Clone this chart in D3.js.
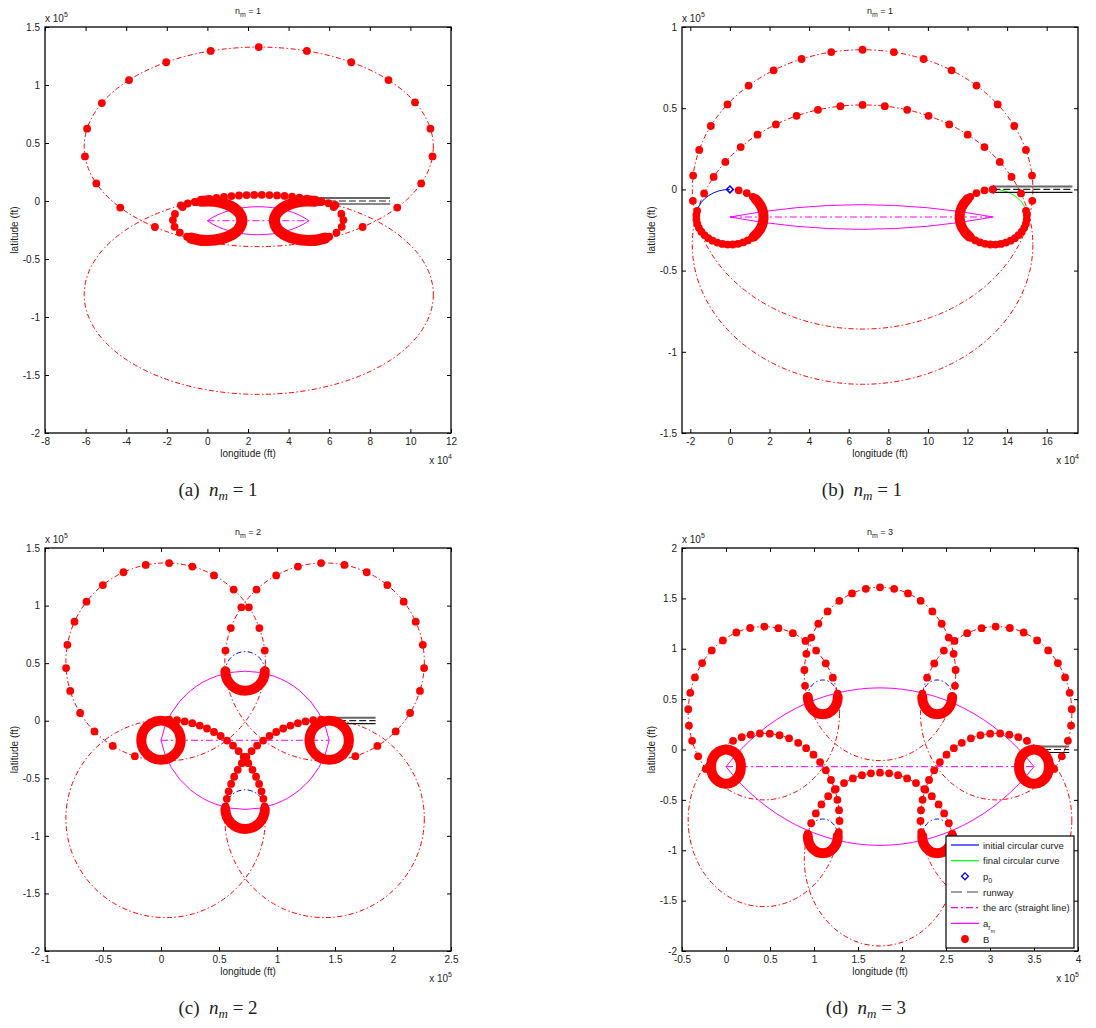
<!DOCTYPE html>
<html>
<head>
<meta charset="utf-8">
<script src="https://cdn.jsdelivr.net/npm/d3@7"></script>
<style>
  body { margin: 0; background: #fff; }
  text { font-family: "Liberation Sans", Arial, sans-serif; fill: #222; }
</style>
</head>
<body>
<svg id="fig" width="1096" height="1028"></svg>
<script>
// ---------------- data (feet) ----------------
// circles are [cx, cy, radius]; dot lists are angles in degrees on a circle

// (a) n_m = 1
const aXTicks = [-8, -6, -4, -2, 0, 2, 4, 6, 8, 10, 12];
const aYTicks = [-2, -1.5, -1, -0.5, 0, 0.5, 1, 1.5];
const aCircles = [[25300, 46700, 86000], [25300, -80700, 86000], [0, -17000, 17000], [50000, -17000, 17000]];
const aGuide = [0, 1];
const aDotsUpper = [-53.5, -37.5, -21.5, -5.5, 10.5, 26.5, 42, 58, 74, 90, 106, 122, 138, 154, 169.5, 185.5, 201.5, 217.5, 233.5];
const aDotsLowerTop = [64, 66.5, 69, 71.5, 74, 76.5, 79, 81.5, 84, 86.5, 89, 91.5, 94, 96.5, 99, 101.5, 104, 106.5, 109, 111.5, 114, 116.5];
const aDotsLoopL = [110, 136, 160, 178, 198, 217, 234];
const aDotsLoopR = [70, 44, 20, 2, -18, -37, -54];
const aThick = [[2, -118, 100], [3, 80, 298]];
const aLens = [0, 50000, -17000, 31900];
const aRunway = [50000, 90000];

// (b) n_m = 1
const bXTicks = [-2, 0, 2, 4, 6, 8, 10, 12, 14, 16];
const bYTicks = [-1.5, -1, -0.5, 0, 0.5, 1];
const bCircles = [[67000, 0, 86000], [67000, -34000, 86000], [0, -17000, 17000], [133000, -17000, 17000]];
const bGuide = [0, 1];
const bDotsC1 = [184.7, 174.3, 163.6, 153, 142.5, 132, 121.5, 111, 100.6, 90, 79.4, 69, 58.5, 48, 37.5, 27, 16.4, 5.7, -4.7];
const bDotsC2 = [158.5, 151, 143.7, 135.7, 128.1, 120.6, 112.8, 105.2, 97.5, 90, 82.5, 74.8, 67.2, 59.4, 51.9, 44.3, 36.3, 29, 21.5];
const bDotsLoopL = [75, 60, 47, 36, 26, 17, 9, 1, -7, -15, -23, -31, -40, -49, -58, -67, -76, -85, -94, -103, -112, -121, -130, -139, -148, -157, -166, -175, -184, -193];
const bDotsLoopR = [91, 105, 120, 133, 144, 154, 163, 171, 179, 187, 195, 203, 211, 220, 229, 238, 247, 256, 265, 274, 283, 292, 301, 310, 319, 328, 337, 346, 355, 364, 373];
const bThick = [[2, -45, 40], [3, 140, 225]];
const bLens = [0, 133000, -17000, 298600];
const bRunway = [133000, 173000];

// (c) n_m = 2
const cXTicks = [-1, -0.5, 0, 0.5, 1, 1.5, 2, 2.5];
const cYTicks = [-2, -1.5, -1, -0.5, 0, 0.5, 1, 1.5];
const cCircles = [[4000, 51000, 86000], [141000, 51000, 86000], [4000, -85000, 86000], [141000, -85000, 86000],
                  [0, -17000, 17000], [145000, -17000, 17000], [72500, 43000, 17000], [72500, -77000, 17000]];
const cGuide = [0, 1, 2, 3];
const cDotsUL = [6.6, 20, 33.5, 47, 61, 74.5, 88, 101.5, 115, 129, 142.5, 156, 170, 183.5, 197, 211, 224.5, 238, 252];
const cDotsUR = [173.4, 160, 146.5, 133, 119, 105.5, 92, 78.5, 65, 51, 37.5, 24, 10, -3.5, -17, -31, -44.5, -58, -72];
const cDotsLL = [88, 83.5, 79, 74.5, 70, 65.5, 61, 56.5, 52, 47.5, 43, 38.5, 34, 29.5, 25, 20.5, 16, 11.5, 7];
const cDotsLR = [92, 96.5, 101, 105.5, 110, 114.5, 119, 123.5, 128, 132.5, 137, 141.5, 146, 150.5, 155, 159.5, 164, 168.5, 173];
const cThick = [[4, 0, 360], [5, 0, 360], [6, 180, 360], [7, 180, 360]];
const cBlueDash = [[6, 0, 180], [7, 0, 180]];
const cLens = [0, 145000, -17000, 73800];
const cRunway = [145000, 185000];

// (d) n_m = 3
const dXTicks = [-0.5, 0, 0.5, 1, 1.5, 2, 2.5, 3, 3.5, 4];
const dYTicks = [-2, -1.5, -1, -0.5, 0, 0.5, 1, 1.5, 2];
const dCircles = [[43000, 36000, 86000], [175000, 75000, 86000], [307000, 36000, 86000],
                  [43000, -70000, 86000], [175000, -109000, 86000], [307000, -70000, 86000],
                  [0, -17000, 17000], [350000, -17000, 17000], [110000, 52000, 17000], [240000, 52000, 17000],
                  [110000, -86000, 17000], [240000, -86000, 17000]];
const dGuide = [0, 1, 2, 3, 4, 5];
const dDotsUL = [220, 209.8, 198.6, 188.2, 177.3, 166.4, 155.6, 144.6, 133.5, 122.8, 111.3, 100.4, 89.6, 78.9, 67.5, 56.6, 46.3, 35.1, 24.2, 13];
const dDotsUC = [-7.9, 2.6, 13.4, 24.8, 35.4, 46.2, 57.5, 68.3, 79.2, 90, 100.8, 111.7, 122.5, 133.8, 144.6, 155.2, 166.6, 177.4, 187.9];
const dDotsUR = [-40, -29.8, -18.6, -8.2, 2.7, 13.6, 24.4, 35.4, 46.5, 57.2, 68.7, 79.6, 90.4, 101.1, 112.5, 123.4, 133.7, 144.9, 155.8, 167];
const dDotsLL = [114, 107, 100, 93, 85.5, 78, 70.5, 63, 56, 49, 42, 35, 27.5, 20.5, 13.5, 6.5, -0.6, -8];
const dDotsLC = [17.2, 24.6, 32, 39.3, 46.8, 54.2, 61.6, 69, 76.2, 83.1, 90, 96.9, 103.8, 111, 118.4, 125.8, 133.2, 140.7, 148, 155.4, 162.8];
const dDotsLR = [66, 73, 80, 87, 94.5, 102, 109.5, 117, 124, 131, 138, 145, 152.5, 159.5, 166.5, 173.5, 180.6, 188];
const dThick = [[6, 0, 360], [7, 0, 360], [8, 180, 360], [9, 180, 360], [10, 180, 360], [11, 180, 360]];
const dBlueDash = [[8, 0, 180], [9, 0, 180], [10, 0, 180], [11, 0, 180]];
const dLens = [0, 350000, -17000, 234970];
const dRunway = [350000, 390000];

const legendLabels = ['initial circular curve', 'final circular curve', 'p0', 'runway', 'the arc (straight line)', 'arm', 'B'];

// ---------------- drawing ----------------
const svg = d3.select('#fig');
svg.append('rect').attr('width', 1096).attr('height', 1028).attr('fill', '#fff');

const RED = '#ff0000', MAG = '#ff00ff', BLUE = '#0000ff', GREEN = '#00ff00';
const DASHDOT = '5,2.5,1.5,2.5';

function fmt(v) { return String(+v.toFixed(2)); }

function drawPanel(p) {
    const [L, T, R, B] = p.box;
    const x = d3.scaleLinear().domain(p.xDom).range([L, R]);
    const y = d3.scaleLinear().domain(p.yDom).range([B, T]);
    const kx = (R - L) / (p.xDom[1] - p.xDom[0]);
    const ky = (B - T) / (p.yDom[1] - p.yDom[0]);

    svg.append('clipPath').attr('id', 'clip' + p.id)
        .append('rect').attr('x', L).attr('y', T).attr('width', R - L).attr('height', B - T);
    const g = svg.append('g').attr('clip-path', `url(#clip${p.id})`);

    const pt = (c, deg) => {
        const a = deg * Math.PI / 180;
        return [c[0] + c[2] * Math.cos(a), c[1] + c[2] * Math.sin(a)];
    };
    // arc along circle c from a1 to a2 (degrees, data orientation)
    const arcPath = (c, a1, a2) => {
        const rx = c[2] * kx, ry = c[2] * ky;
        const n = Math.max(1, Math.ceil(Math.abs(a2 - a1) / 170));
        const step = (a2 - a1) / n;
        const sweep = a2 > a1 ? 0 : 1;
        let p0 = pt(c, a1);
        let d = `M${x(p0[0])},${y(p0[1])}`;
        for (let i = 1; i <= n; i++) {
            const q = pt(c, a1 + step * i);
            d += `A${rx},${ry} 0 0 ${sweep} ${x(q[0])},${y(q[1])}`;
        }
        return d;
    };

    // red dash-dot guide circles
    g.selectAll(null).data(p.guide.map(i => p.circles[i])).join('ellipse')
        .attr('cx', c => x(c[0])).attr('cy', c => y(c[1]))
        .attr('rx', c => c[2] * kx).attr('ry', c => c[2] * ky)
        .attr('fill', 'none').attr('stroke', RED).attr('stroke-width', 1)
        .attr('stroke-dasharray', DASHDOT);

    // blue dash-dot half circles
    g.selectAll(null).data(p.blueDash || []).join('path')
        .attr('d', a => arcPath(p.circles[a[0]], a[1], a[2]))
        .attr('fill', 'none').attr('stroke', BLUE).attr('stroke-width', 1)
        .attr('stroke-dasharray', DASHDOT);

    // initial / final circular curves
    g.append('path').attr('d', arcPath(p.circles[p.loopL], 90, p.initEnd))
        .attr('fill', 'none').attr('stroke', BLUE).attr('stroke-width', 1);
    g.append('path').attr('d', arcPath(p.circles[p.loopR], 90, p.finalEnd))
        .attr('fill', 'none').attr('stroke', GREEN).attr('stroke-width', 1);

    // a_rm : two circular arcs between the loop centres, and the straight arc line
    const [lx1, lx2, ly, lr] = p.lens;
    const rx = lr * kx, ry = lr * ky;
    g.append('path')
        .attr('d', `M${x(lx1)},${y(ly)}A${rx},${ry} 0 0 1 ${x(lx2)},${y(ly)}` +
                   `M${x(lx1)},${y(ly)}A${rx},${ry} 0 0 0 ${x(lx2)},${y(ly)}`)
        .attr('fill', 'none').attr('stroke', MAG).attr('stroke-width', 1);
    g.append('line').attr('x1', x(lx1)).attr('x2', x(lx2)).attr('y1', y(ly)).attr('y2', y(ly))
        .attr('stroke', MAG).attr('stroke-width', 1).attr('stroke-dasharray', '7,3,2,3');

    // runway
    const [rw1, rw2] = p.runway;
    const rg = g.append('g');
    rg.append('line').attr('x1', x(rw1)).attr('x2', x(rw2)).attr('y1', y(0) - 3).attr('y2', y(0) - 3)
        .attr('stroke', '#666').attr('stroke-width', 2);
    rg.append('line').attr('x1', x(rw1)).attr('x2', x(rw2)).attr('y1', y(0)).attr('y2', y(0))
        .attr('stroke', '#222').attr('stroke-width', 1.2).attr('stroke-dasharray', '7,3');
    rg.append('line').attr('x1', x(rw1)).attr('x2', x(rw2)).attr('y1', y(0) + 3).attr('y2', y(0) + 3)
        .attr('stroke', '#111').attr('stroke-width', 1.2);

    // p0 markers
    const diamond = d3.symbol(d3.symbolDiamond2, 30);
    [[0, 0], [rw1, 0]].forEach(q => {
        g.append('path').attr('d', diamond).attr('transform', `translate(${x(q[0])},${y(q[1])})`)
            .attr('fill', 'none').attr('stroke', BLUE).attr('stroke-width', 1.5);
    });

    // B : dense parts of the loops
    g.selectAll(null).data(p.thick).join('path')
        .attr('d', a => arcPath(p.circles[a[0]], a[1], a[2]))
        .attr('fill', 'none').attr('stroke', RED).attr('stroke-width', p.thickW)
        .attr('stroke-linecap', 'round');

    // B : individual points
    const pts = [];
    p.dots.forEach(([ci, angs]) => angs.forEach(a => pts.push(pt(p.circles[ci], a))));
    g.selectAll(null).data(pts).join('circle')
        .attr('cx', d => x(d[0])).attr('cy', d => y(d[1])).attr('r', 3.9)
        .attr('fill', RED);

    // axes (inward ticks on all four sides)
    const xv = p.xTicks.map(t => t * p.xUnit), yv = p.yTicks.map(t => t * p.yUnit);
    const styleAxis = sel => {
        sel.select('.domain').remove();
        sel.selectAll('line').attr('stroke', '#000');
        sel.selectAll('text').attr('font-family', '"Liberation Sans", Arial, sans-serif')
            .attr('font-size', 10).attr('fill', '#222');
        sel.attr('font-family', null).attr('font-size', null);
    };
    svg.append('g').attr('transform', `translate(0,${B})`)
        .call(d3.axisBottom(x).tickValues(xv).tickFormat(d => fmt(d / p.xUnit))
            .tickSizeInner(-4).tickSizeOuter(0).tickPadding(5)).call(styleAxis);
    svg.append('g').attr('transform', `translate(0,${T})`)
        .call(d3.axisTop(x).tickValues(xv).tickFormat('').tickSizeInner(-4).tickSizeOuter(0)).call(styleAxis);
    svg.append('g').attr('transform', `translate(${L},0)`)
        .call(d3.axisLeft(y).tickValues(yv).tickFormat(d => fmt(d / p.yUnit))
            .tickSizeInner(-4).tickSizeOuter(0).tickPadding(5)).call(styleAxis);
    svg.append('g').attr('transform', `translate(${R},0)`)
        .call(d3.axisRight(y).tickValues(yv).tickFormat('').tickSizeInner(-4).tickSizeOuter(0)).call(styleAxis);

    svg.append('rect').attr('x', L).attr('y', T).attr('width', R - L).attr('height', B - T)
        .attr('fill', 'none').attr('stroke', '#000').attr('stroke-width', 1.3);

    // titles and labels
    const cx = (L + R) / 2;
    const title = svg.append('text').attr('x', cx).attr('y', T - 13).attr('text-anchor', 'middle')
        .attr('font-size', 9);
    title.append('tspan').text('n');
    title.append('tspan').attr('dy', 2.5).attr('font-size', 7).text('m');
    title.append('tspan').attr('dy', -2.5).text(' = ' + p.nm);

    svg.append('text').attr('x', cx).attr('y', B + 24).attr('text-anchor', 'middle')
        .attr('font-size', 10).text('longitude (ft)');
    svg.append('text').attr('transform', `translate(${L - 27},${(T + B) / 2}) rotate(-90)`)
        .attr('text-anchor', 'middle').attr('font-size', 10).text('latitude (ft)');

    const ey = svg.append('text').attr('x', L).attr('y', T - 5).attr('font-size', 10);
    ey.append('tspan').text('x 10');
    ey.append('tspan').attr('dy', -5).attr('font-size', 7).text(p.yExp);
    const ex = svg.append('text').attr('x', R + 1).attr('y', B + 31).attr('text-anchor', 'end').attr('font-size', 10);
    ex.append('tspan').text('x 10');
    ex.append('tspan').attr('dy', -5).attr('font-size', 7).text(p.xExp);

    // caption
    const cap = svg.append('text').attr('x', p.capX).attr('y', B + 63).attr('text-anchor', 'middle')
        .attr('font-size', 19).style('font-family', '"Liberation Serif", "DejaVu Serif", serif').attr('fill', '#111');
    cap.append('tspan').text('(' + p.id + ')\u2002');
    cap.append('tspan').attr('font-style', 'italic').text('n');
    cap.append('tspan').attr('font-style', 'italic').attr('font-size', 13).attr('dy', 4).text('m');
    cap.append('tspan').attr('dy', -4).text(' = ' + p.nm);

    return { x, y };
}

drawPanel({ id: 'a', nm: 1, box: [45, 27, 451, 433], xDom: [-80000, 120000], yDom: [-200000, 150000],
    xUnit: 1e4, yUnit: 1e5, xExp: '4', yExp: '5', xTicks: aXTicks, yTicks: aYTicks, capX: 218,
    circles: aCircles, guide: aGuide, thick: aThick, thickW: 11,
    dots: [[0, aDotsUpper], [1, aDotsLowerTop], [2, aDotsLoopL], [3, aDotsLoopR]],
    loopL: 2, loopR: 3, initEnd: 112, finalEnd: 62, lens: aLens, runway: aRunway });

drawPanel({ id: 'b', nm: 1, box: [682, 27, 1078, 433], xDom: [-24200, 175800], yDom: [-150000, 100000],
    xUnit: 1e4, yUnit: 1e5, xExp: '4', yExp: '5', xTicks: bXTicks, yTicks: bYTicks, capX: 862,
    circles: bCircles, guide: bGuide, thick: bThick, thickW: 10,
    dots: [[0, bDotsC1], [1, bDotsC2], [2, bDotsLoopL], [3, bDotsLoopR]],
    loopL: 2, loopR: 3, initEnd: 168, finalEnd: 12, lens: bLens, runway: bRunway });

drawPanel({ id: 'c', nm: 2, box: [45, 548, 451, 951], xDom: [-100000, 250000], yDom: [-200000, 150000],
    xUnit: 1e5, yUnit: 1e5, xExp: '5', yExp: '5', xTicks: cXTicks, yTicks: cYTicks, capX: 218,
    circles: cCircles, guide: cGuide, thick: cThick, thickW: 10, blueDash: cBlueDash,
    dots: [[0, cDotsUL], [1, cDotsUR], [2, cDotsLL], [3, cDotsLR]],
    loopL: 4, loopR: 5, initEnd: 130, finalEnd: 50, lens: cLens, runway: cRunway });

drawPanel({ id: 'd', nm: 3, box: [682, 548, 1078, 951], xDom: [-50000, 400000], yDom: [-200000, 200000],
    xUnit: 1e5, yUnit: 1e5, xExp: '5', yExp: '5', xTicks: dXTicks, yTicks: dYTicks, capX: 866,
    circles: dCircles, guide: dGuide, thick: dThick, thickW: 10, blueDash: dBlueDash,
    dots: [[0, dDotsUL], [1, dDotsUC], [2, dDotsUR], [3, dDotsLL], [4, dDotsLC], [5, dDotsLR]],
    loopL: 6, loopR: 7, initEnd: 130, finalEnd: 50, lens: dLens, runway: dRunway });

// legend in panel (d)
const lg = svg.append('g').attr('transform', 'translate(946,836)');
lg.append('rect').attr('width', 128).attr('height', 112).attr('fill', '#fff')
    .attr('stroke', '#000').attr('stroke-width', 1.2);
const rowY = d3.scalePoint().domain(legendLabels).range([9, 103]);
const sampleStyle = {
    'initial circular curve': { stroke: BLUE },
    'final circular curve': { stroke: GREEN },
    'runway': { stroke: '#444', dash: '11,5' },
    'the arc (straight line)': { stroke: MAG, dash: '7,3,2,3' },
    'arm': { stroke: MAG }
};
legendLabels.forEach(lab => {
    const yy = rowY(lab);
    const st = sampleStyle[lab];
    if (st) {
        lg.append('line').attr('x1', 5).attr('x2', 33).attr('y1', yy).attr('y2', yy)
            .attr('stroke', st.stroke).attr('stroke-width', 1.2).attr('stroke-dasharray', st.dash || null);
    } else if (lab === 'p0') {
        lg.append('path').attr('d', d3.symbol(d3.symbolDiamond2, 30)).attr('transform', `translate(19,${yy})`)
            .attr('fill', 'none').attr('stroke', BLUE).attr('stroke-width', 1.3);
    } else {
        lg.append('circle').attr('cx', 19).attr('cy', yy).attr('r', 3.9).attr('fill', RED);
    }
    const t = lg.append('text').attr('x', 37).attr('y', yy + 3.5).attr('font-size', 9.5);
    if (lab === 'p0') {
        t.append('tspan').text('p');
        t.append('tspan').attr('dy', 3).attr('font-size', 7).text('0');
    } else if (lab === 'arm') {
        t.append('tspan').text('a');
        t.append('tspan').attr('dy', 3).attr('font-size', 7).text('r');
        t.append('tspan').attr('dy', 3).attr('font-size', 5).text('m');
    } else {
        t.text(lab);
    }
});
</script>
</body>
</html>
